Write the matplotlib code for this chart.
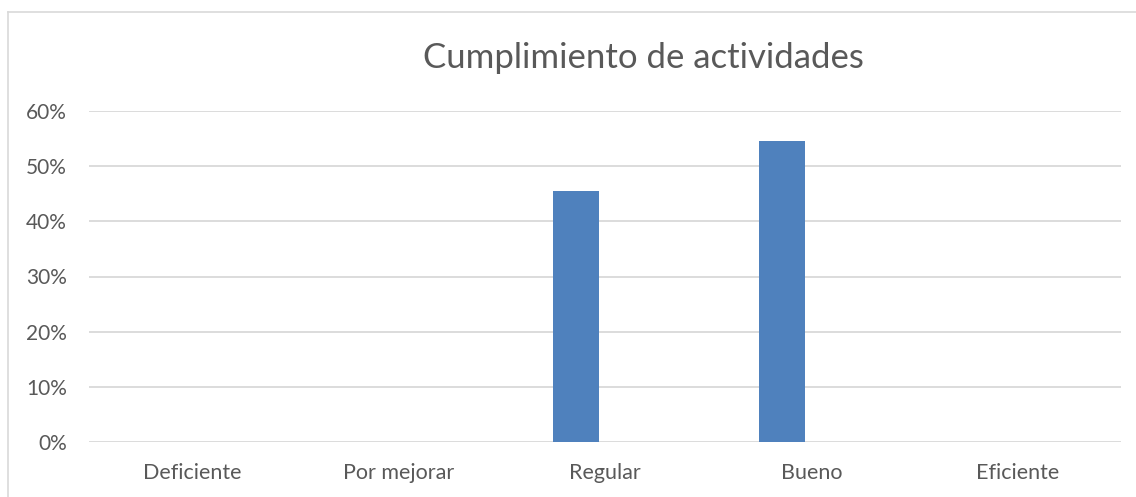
import matplotlib.pyplot as plt
from matplotlib.lines import Line2D
import numpy as np

# data
categories = ['Deficiente', 'Por mejorar', 'Regular', 'Bueno', 'Eficiente']
values = [0.0, 0.0, 0.4545, 0.5455, 0.0]
yticks = [0, 0.1, 0.2, 0.3, 0.4, 0.5, 0.6]
title = 'Cumplimiento de actividades'

plt.rcParams['font.family'] = ['Lato', 'DejaVu Sans']
txt = '#595959'
grid = '#d9d9d9'

fig = plt.figure(figsize=(11.36, 4.97), dpi=100)
ax = fig.add_axes([89 / 1136, 1 - 442 / 497, (1121 - 89) / 1136, (442 - 111) / 497])

x = np.arange(len(categories))
ax.bar(x - 0.142, values, width=0.223, color='#4f81bd', zorder=3)

ax.set_xlim(-0.5, len(categories) - 0.5)
ax.set_ylim(0, 0.6)
ax.set_yticks(yticks)
ax.set_yticklabels(['{:.0f}%'.format(v * 100) for v in yticks], fontsize=15, color=txt)
ax.set_xticks(x)
ax.set_xticklabels(categories, fontsize=15.5, color=txt)
ax.tick_params(length=0)
ax.tick_params(axis='y', pad=16)
ax.tick_params(axis='x', pad=15)
ax.grid(axis='y', color=grid, linewidth=1.3, zorder=0)
for s in ax.spines.values():
    s.set_visible(False)

fig.text(643 / 1136, 1 - 58 / 497, title, fontsize=25, color=txt, ha='center', va='center')

# chart border (left and top edges)
fig.add_artist(Line2D([7.5 / 1136, 7.5 / 1136], [0, 1 - 12 / 497], color=grid, lw=1.2))
fig.add_artist(Line2D([7.5 / 1136, 1], [1 - 12 / 497, 1 - 12 / 497], color=grid, lw=1.2))

fig.savefig('out.png', dpi=100)
